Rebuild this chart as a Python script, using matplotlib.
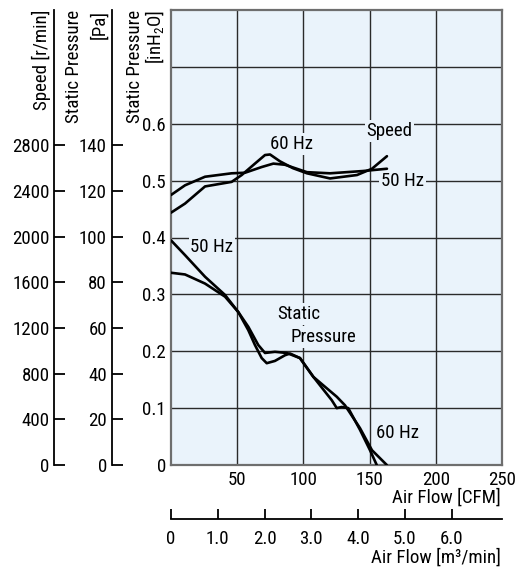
import numpy as np
import matplotlib.pyplot as plt
from matplotlib import font_manager as fm

# speed curves: air flow [CFM] vs speed [r/min]
flow_speed_60 = [0, 10.6, 25.7, 45.8, 53.4, 63.4, 71, 74.8, 82.3, 92.1, 102.7, 120.1, 140.5, 151.8, 163.1]
speed_60 = [2210, 2290, 2440, 2480, 2540, 2640, 2715, 2720, 2660, 2600, 2555, 2510, 2540, 2595, 2705]
flow_speed_50 = [0, 10.6, 25.7, 45.8, 55.9, 68.5, 77.3, 86, 102.7, 120.1, 145, 163.1]
speed_50 = [2365, 2450, 2525, 2555, 2560, 2610, 2640, 2630, 2565, 2555, 2575, 2595]

# static pressure curves: air flow [CFM] vs pressure [inH2O]
flow_sp_a = [0, 10.6, 25.7, 40.8, 50.8, 58.4, 63.4, 68.5, 72.3, 78.5, 86.1, 89.9, 97.4,
             107.5, 116.3, 121.4, 125.2, 128.9, 133.9, 142.7, 150.3, 155.4]
sp_a = [0.395, 0.369, 0.331, 0.299, 0.269, 0.237, 0.211, 0.188, 0.179, 0.183, 0.193, 0.196, 0.188,
        0.155, 0.129, 0.114, 0.100, 0.102, 0.100, 0.062, 0.026, 0.0]
flow_sp_b = [0, 10.6, 25.7, 40.8, 50.8, 58.4, 65.9, 71, 78.5, 87.4, 97.4,
             107.5, 117.6, 125.2, 131.4, 142.7, 151.8, 163]
sp_b = [0.338, 0.335, 0.319, 0.296, 0.269, 0.243, 0.211, 0.197, 0.199, 0.197, 0.188,
        0.155, 0.135, 0.120, 0.105, 0.065, 0.026, 0.0]

cfm_ticks = [50, 100, 150, 200, 250]
inh2o_ticks = [0, 0.1, 0.2, 0.3, 0.4, 0.5, 0.6, 0.7]
inh2o_labels = ['0', '0.1', '0.2', '0.3', '0.4', '0.5', '0.6', '']
pa_ticks = [0, 20, 40, 60, 80, 100, 120, 140]
rpm_ticks = [0, 400, 800, 1200, 1600, 2000, 2400, 2800]
m3_ticks = [0, 1, 2, 3, 4, 5, 6]
m3_labels = ['0', '1.0', '2.0', '3.0', '4.0', '5.0', '6.0']

PA_PER_INH2O = 249.09
RPM_PER_PA = 20.0
CFM_PER_M3 = 35.3147
W, H = 517, 569
BG = '#eaf3fb'

NARROW = ('condensed', 'semi-condensed', 'extra-condensed', 'ultra-condensed')


def pick_font():
    """Look for a narrow sans face; fall back to plain DejaVu Sans."""
    wanted = ['Liberation Sans Narrow', 'Arial Narrow', 'Roboto Condensed', 'Open Sans Condensed',
              'DejaVu Sans', 'Noto Sans', 'Liberation Sans', 'Open Sans', 'Roboto']
    for fam in wanted:
        for f in fm.fontManager.ttflist:
            if f.name != fam or f.style != 'normal' or f.weight not in (400, 'normal', 'regular', 'book'):
                continue
            if 'Narrow' in fam or 'Condensed' in fam:
                return fam, 'normal'
            if f.stretch in NARROW or 'ondensed' in f.fname:
                return fam, f.stretch if f.stretch in NARROW else 'condensed'
    return 'DejaVu Sans', 'normal'


family, stretch = pick_font()
plt.rcParams['font.family'] = [family, 'DejaVu Sans']
plt.rcParams['font.stretch'] = stretch
plt.rcParams['mathtext.fontset'] = 'custom'
plt.rcParams['mathtext.rm'] = family

fig = plt.figure(figsize=(W / 100, H / 100), dpi=100)


def fit_size(s, width_px):
    t = fig.text(0, 0, s, fontsize=10)
    w = t.get_window_extent(renderer=fig.canvas.get_renderer()).width
    t.remove()
    return 10 * width_px / w


FS = min(14, fit_size('Air Flow [CFM]', 108))


def pos(x, y):
    return x / W, 1 - y / H


ax = fig.add_axes([171 / W, 1 - 465 / H, 331 / W, 455 / H])
ax.set_facecolor(BG)
ax.set_xlim(0, 250)
ax.set_ylim(0, 0.8)
ax.set_xticks(cfm_ticks)
ax.set_xticklabels([str(t) for t in cfm_ticks])
ax.set_yticks(inh2o_ticks)
ax.set_yticklabels(inh2o_labels)
ax.tick_params(axis='both', length=0, labelsize=FS)
ax.tick_params(axis='y', pad=3.6)
ax.tick_params(axis='x', pad=4.0)
ax.grid(True, color='#2a2a2a', lw=1.0)
for s in ax.spines.values():
    s.set_color('#6e6e6e')
    s.set_linewidth(1.6)

ax.plot(flow_sp_a, sp_a, color='black', lw=1.9, solid_capstyle='round', zorder=3)
ax.plot(flow_sp_b, sp_b, color='black', lw=1.9, solid_capstyle='round', zorder=3)


# extra left scales: Pa and r/min
def left_scale(offset, top, ticks):
    a = ax.twinx()
    a.set_ylim(0, top)
    for k in ['top', 'bottom', 'right']:
        a.spines[k].set_visible(False)
    a.spines['left'].set_visible(True)
    a.spines['left'].set_position(('axes', offset))
    a.spines['left'].set_linewidth(1.3)
    a.yaxis.set_ticks_position('left')
    a.yaxis.set_label_position('left')
    a.set_yticks(ticks)
    a.set_yticklabels([str(t) for t in ticks])
    a.tick_params(axis='y', direction='in', length=8, width=1.3, pad=3.4, labelsize=FS)
    return a


ax_pa = left_scale((111.7 - 171) / 331, 0.8 * PA_PER_INH2O, pa_ticks)
ax_rpm = left_scale((54.3 - 171) / 331, 0.8 * PA_PER_INH2O * RPM_PER_PA, rpm_ticks)

ax_rpm.plot(flow_speed_60, speed_60, color='black', lw=1.9, solid_capstyle='round')
ax_rpm.plot(flow_speed_50, speed_50, color='black', lw=1.9, solid_capstyle='round')

# m3/min scale under the CFM axis
sec = ax.secondary_xaxis((465 - 518.7) / 455, functions=(lambda q: q / CFM_PER_M3, lambda q: q * CFM_PER_M3))
sec.set_xticks(m3_ticks)
sec.set_xticklabels(m3_labels)
sec.tick_params(direction='in', length=7.5, width=1.3, pad=8, labelsize=FS)
sec.spines['bottom'].set_linewidth(1.3)

# axis titles
fig.text(*pos(41, 10), 'Speed [r/min]', rotation=90, ha='center', va='top', fontsize=FS)
fig.text(*pos(74, 10), 'Static Pressure', rotation=90, ha='center', va='top', fontsize=FS)
fig.text(*pos(99, 10), '[Pa]', rotation=90, ha='center', va='top', fontsize=FS)
fig.text(*pos(134.5, 10), 'Static Pressure', rotation=90, ha='center', va='top', fontsize=FS)
fig.text(*pos(155, 10), '[inH$_2$O]', rotation=90, ha='center', va='top', fontsize=FS)
fig.text(*pos(501, 498), 'Air Flow [CFM]', ha='right', va='center', fontsize=FS)
fig.text(*pos(501, 558), 'Air Flow [m³/min]', ha='right', va='center', fontsize=FS)

# curve labels
box = dict(boxstyle='square,pad=0.1', facecolor=BG, edgecolor='none')
for x, y, s, ha in [(291.5, 144, '60 Hz', 'center'), (389.5, 131, 'Speed', 'center'),
                    (402.5, 181, '50 Hz', 'center'), (212, 247, '50 Hz', 'center'),
                    (277, 314, 'Static', 'left'), (291, 337, 'Pressure', 'left'),
                    (397.5, 432.5, '60 Hz', 'center')]:
    ax.text(*pos(x, y), s, transform=fig.transFigure, ha=ha, va='center',
            fontsize=FS, bbox=box, zorder=2.5)

fig.savefig('out.png', dpi=100)
